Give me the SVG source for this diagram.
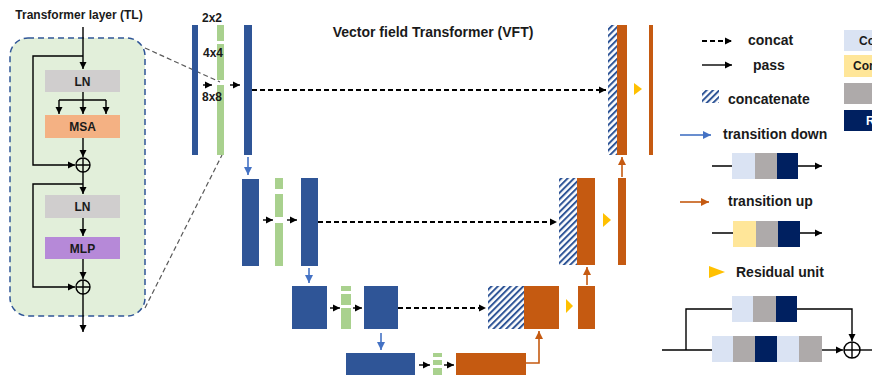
<svg xmlns="http://www.w3.org/2000/svg" width="872" height="375" viewBox="0 0 872 375">
<style>
text{font-family:"Liberation Sans",Arial,sans-serif;font-weight:bold;fill:#1a1a1a}
.t12{font-size:12px}
.t14{font-size:14px}
.ln{stroke:#000;stroke-width:1.4;fill:none}
.dash{stroke:#000;stroke-width:1.8;stroke-dasharray:5,3;fill:none}
.gd{stroke:#595959;stroke-width:1.2;stroke-dasharray:5,3;fill:none}
.bl{fill:#2f5597}
.gr{fill:#a9d18e}
.or{fill:#c55a11}
.hat{fill:url(#hatch)}
.tri{fill:#ffc000}
.barrow{stroke:#4472c4;stroke-width:1.6;fill:none}
.oarrow{stroke:#c55a11;stroke-width:1.6;fill:none}
.lb{fill:#dae3f3}.gy{fill:#aeaaaa}.nv{fill:#002060}.ye{fill:#ffe699}
</style>
<defs>
<marker id="ah" markerUnits="userSpaceOnUse" markerWidth="8" markerHeight="8" refX="7" refY="4" orient="auto"><path d="M0,0.5 L7,4 L0,7.5 z" fill="#000"/></marker>
<marker id="ahb" markerUnits="userSpaceOnUse" markerWidth="10" markerHeight="10" refX="8" refY="4.5" orient="auto"><path d="M0,0.5 L8,4.5 L0,8.5 z" fill="#4472c4"/></marker>
<marker id="aho" markerUnits="userSpaceOnUse" markerWidth="10" markerHeight="10" refX="8" refY="4.5" orient="auto"><path d="M0,0.5 L8,4.5 L0,8.5 z" fill="#c55a11"/></marker>
<pattern id="hatch" patternUnits="userSpaceOnUse" width="4.5" height="4.5" patternTransform="rotate(45)"><rect width="4.5" height="4.5" fill="#fff"/><rect width="2" height="4.5" fill="#2f5597"/></pattern>
</defs>

<!-- Transformer layer panel -->
<g id="tl-panel">
<text class="t12" x="79" y="19" text-anchor="middle">Transformer layer (TL)</text>
<rect x="10" y="38" width="135" height="278" rx="18" fill="#e2efda" stroke="#2f5597" stroke-width="1.5" stroke-dasharray="6,4"/>
</g>
<g id="tl-ln1"><rect x="45" y="70" width="75" height="22" fill="#d0cece"/><text class="t12" x="82.5" y="85.5" text-anchor="middle">LN</text></g>
<g id="tl-msa"><rect x="45" y="115" width="75" height="23" fill="#f4b183"/><text class="t12" x="82.5" y="131" text-anchor="middle">MSA</text></g>
<g id="tl-add1"><circle cx="83" cy="165" r="7" fill="none" stroke="#000" stroke-width="1.4"/><path class="ln" d="M76,165 H90 M83,158 V172"/></g>
<g id="tl-ln2"><rect x="45" y="195" width="75" height="23" fill="#d0cece"/><text class="t12" x="82.5" y="211" text-anchor="middle">LN</text></g>
<g id="tl-mlp"><rect x="45" y="237" width="75" height="22" fill="#b689d8"/><text class="t12" x="82.5" y="252.5" text-anchor="middle">MLP</text></g>
<g id="tl-add2"><circle cx="83" cy="287" r="7" fill="none" stroke="#000" stroke-width="1.4"/><path class="ln" d="M76,287 H90 M83,280 V294"/></g>

<g id="tl-connectors">
<path class="ln" d="M83,27 V69" marker-end="url(#ah)"/>
<path class="ln" d="M83,56 H33 V165 H75" marker-end="url(#ah)"/>
<path class="ln" d="M83,92 V100 M59,100 H106"/>
<path class="ln" d="M59,100 V114" marker-end="url(#ah)"/>
<path class="ln" d="M83,100 V114" marker-end="url(#ah)"/>
<path class="ln" d="M106,100 V114" marker-end="url(#ah)"/>
<path class="ln" d="M83,138 V157" marker-end="url(#ah)"/>
<path class="ln" d="M83,172 V194" marker-end="url(#ah)"/>
<path class="ln" d="M83,184 H33 V287 H75" marker-end="url(#ah)"/>
<path class="ln" d="M83,218 V236" marker-end="url(#ah)"/>
<path class="ln" d="M83,259 V279" marker-end="url(#ah)"/>
<path class="ln" d="M83,294 V332" marker-end="url(#ah)"/>
<path class="gd" d="M145,48 L220,82 M145,308 L222,155"/>
</g>

<text class="t14" x="433" y="37" text-anchor="middle">Vector field Transformer (VFT)</text>

<!-- Encoder level 1 -->
<g id="enc1-in"><rect class="bl" x="192" y="25" width="6" height="130"/></g>
<g id="enc1-tl"><rect class="gr" x="217" y="25" width="7" height="16"/><rect class="gr" x="217" y="44" width="7" height="36"/><rect class="gr" x="217" y="85" width="7" height="70"/>
<text class="t12" x="212" y="22" text-anchor="middle">2x2</text>
<text class="t12" x="213" y="57" text-anchor="middle">4x4</text>
<text class="t12" x="212" y="101" text-anchor="middle">8x8</text></g>
<g id="enc1-out"><rect class="bl" x="244" y="25" width="8" height="130"/></g>
<!-- Encoder level 2 -->
<g id="enc2-in"><rect class="bl" x="242" y="179" width="17" height="87"/></g>
<g id="enc2-tl"><rect class="gr" x="275" y="178" width="8" height="11"/><rect class="gr" x="275" y="194" width="8" height="23"/><rect class="gr" x="275" y="223" width="8" height="43"/></g>
<g id="enc2-out"><rect class="bl" x="301" y="178" width="17" height="88"/></g>
<!-- Encoder level 3 -->
<g id="enc3-in"><rect class="bl" x="292" y="286" width="35" height="43"/></g>
<g id="enc3-tl"><rect class="gr" x="341" y="286" width="10" height="5"/><rect class="gr" x="341" y="294" width="10" height="11"/><rect class="gr" x="341" y="308" width="10" height="21"/></g>
<g id="enc3-out"><rect class="bl" x="364" y="286" width="34" height="43"/></g>
<!-- Bottleneck -->
<g id="bott-in"><rect class="bl" x="346" y="353" width="69" height="25"/></g>
<g id="bott-tl"><rect class="gr" x="433" y="353" width="9" height="4"/><rect class="gr" x="433" y="360" width="9" height="5"/><rect class="gr" x="433" y="368" width="9" height="10"/></g>
<g id="bott-out"><rect class="or" x="456" y="353" width="70" height="25"/></g>
<!-- Decoder level 3 -->
<g id="dec3-cat"><rect class="hat" x="488" y="286" width="36" height="43"/><rect class="or" x="524" y="286" width="35" height="43"/></g>
<g id="dec3-res"><path class="tri" d="M566,299 L573,306 L566,313 z"/></g>
<g id="dec3-out"><rect class="or" x="578" y="286" width="17" height="43"/></g>
<!-- Decoder level 2 -->
<g id="dec2-cat"><rect class="hat" x="559" y="178" width="18" height="87"/><rect class="or" x="577" y="178" width="18" height="87"/></g>
<g id="dec2-res"><path class="tri" d="M603,213 L611,220 L603,227 z"/></g>
<g id="dec2-out"><rect class="or" x="618" y="178" width="8" height="87"/></g>
<!-- Decoder level 1 -->
<g id="dec1-cat"><rect class="hat" x="608" y="25" width="9" height="130"/><rect class="or" x="617" y="25" width="10" height="130"/></g>
<g id="dec1-res"><path class="tri" d="M634,83 L642,89 L634,95 z"/></g>
<g id="dec1-out"><rect class="or" x="649" y="25" width="4" height="130"/></g>

<g id="connectors">
<path class="ln" d="M203,85 H212" marker-end="url(#ah)"/>
<path class="ln" d="M230,85 H240" marker-end="url(#ah)"/>
<path class="dash" d="M252,90 H606" marker-end="url(#ah)"/>
<path class="barrow" d="M248,157 V175" marker-end="url(#ahb)"/>
<path class="ln" d="M263,220 H273" marker-end="url(#ah)"/>
<path class="ln" d="M287,220 H297" marker-end="url(#ah)"/>
<path class="dash" d="M318,222 H557" marker-end="url(#ah)"/>
<path class="barrow" d="M309,268 V283" marker-end="url(#ahb)"/>
<path class="ln" d="M330,308 H340" marker-end="url(#ah)"/>
<path class="ln" d="M353,308 H362" marker-end="url(#ah)"/>
<path class="dash" d="M398,308 H486" marker-end="url(#ah)"/>
<path class="barrow" d="M381,333 V350" marker-end="url(#ahb)"/>
<path class="ln" d="M419,365 H430" marker-end="url(#ah)"/>
<path class="ln" d="M444,365 H454" marker-end="url(#ah)"/>
<path class="oarrow" d="M526,363 H539 V331" marker-end="url(#aho)"/>
<path class="oarrow" d="M587,285 V267" marker-end="url(#aho)"/>
<path class="oarrow" d="M622,177 V157" marker-end="url(#aho)"/>
</g>

<!-- Legend -->
<g id="legend">
<path class="dash" d="M702,41 H732" stroke-dasharray="4,3" marker-end="url(#ah)"/>
<text class="t14" x="748" y="45">concat</text>
<path class="ln" d="M702,65 H732" marker-end="url(#ah)"/>
<text class="t14" x="753" y="70">pass</text>
<rect class="hat" x="702" y="90" width="17" height="13"/>
<text class="t14" x="728" y="104">concatenate</text>
<path class="barrow" d="M680,135 H711" marker-end="url(#ahb)"/>
<text class="t14" x="723" y="139">transition down</text>
<path class="ln" d="M712,166 H732 M798,166 H822" marker-end="url(#ah)"/>
<rect class="lb" x="732" y="153" width="23" height="26"/><rect class="gy" x="755" y="153" width="22" height="26"/><rect class="nv" x="777" y="153" width="21" height="26"/>
<path class="oarrow" d="M680,202 H709" marker-end="url(#aho)"/>
<text class="t14" x="728" y="206">transition up</text>
<path class="ln" d="M712,233 H733 M800,233 H822" marker-end="url(#ah)"/>
<rect class="ye" x="733" y="221" width="23" height="26"/><rect class="gy" x="756" y="221" width="22" height="26"/><rect class="nv" x="778" y="221" width="22" height="26"/>
<path class="tri" d="M709,266 L725,272 L709,278 z"/>
<text class="t14" x="736" y="277">Residual unit</text>
<path class="ln" d="M662,350 H712 M686,350 V309 H732 M797,309 H852 V341" stroke-width="2" marker-end="url(#ah)"/>
<rect class="lb" x="732" y="296" width="21" height="26"/><rect class="gy" x="753" y="296" width="23" height="26"/><rect class="nv" x="776" y="296" width="21" height="26"/>
<rect class="lb" x="712" y="336" width="21" height="26"/><rect class="gy" x="733" y="336" width="22" height="26"/><rect class="nv" x="755" y="336" width="22" height="26"/><rect class="lb" x="777" y="336" width="22" height="26"/><rect class="gy" x="799" y="336" width="23" height="26"/>
<path class="ln" d="M822,350 H843" stroke-width="2" marker-end="url(#ah)"/>
<circle cx="852" cy="350" r="8" fill="none" stroke="#000" stroke-width="1.5"/>
<path class="ln" d="M844,350 H860 M852,342 V358"/>
<path class="ln" d="M860,350 H872" stroke-width="2"/>
<rect class="lb" x="844" y="30" width="30" height="21"/><text class="t12" x="859" y="45">Co</text>
<rect class="ye" x="844" y="55" width="30" height="22"/><text class="t12" x="853" y="70">Con</text>
<rect class="gy" x="844" y="83" width="30" height="21"/>
<rect class="nv" x="844" y="110" width="30" height="21"/><text class="t12" x="866" y="125" style="fill:#fff">R</text>
</g>
</svg>
